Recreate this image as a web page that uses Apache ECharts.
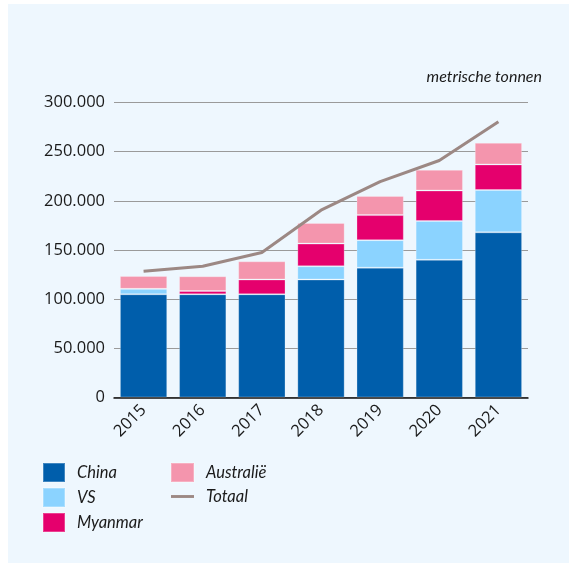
<!DOCTYPE html>
<html>
<head>
<meta charset="utf-8">
<script src="https://cdn.jsdelivr.net/npm/echarts@6/dist/echarts.min.js"></script>
<style>
  html, body { margin: 0; padding: 0; background: #ffffff; }
  #chart { width: 569px; height: 563px; }
</style>
</head>
<body>
<div id="chart"></div>
<script>
// Productie per land, in metrische tonnen
const years = ['2015', '2016', '2017', '2018', '2019', '2020', '2021'];
const china = [105000, 105000, 105000, 120000, 132000, 140000, 168000];
const vs = [5500, 0, 0, 13500, 28000, 39500, 43000];
const myanmar = [0, 3300, 15000, 23000, 25500, 31000, 26000];
const australie = [13000, 15000, 18500, 21000, 19500, 21000, 22000];
const totaal = [128500, 133500, 147500, 190500, 219500, 241000, 280500];
const yTicks = [0, 50000, 100000, 150000, 200000, 250000, 300000];

const FONT = '"Open Sans", "Noto Sans", sans-serif';
const ITALIC_FONT = 'Lato, "Open Sans", sans-serif';

const fmt = v => v === 0 ? '0' : String(v).replace(/\B(?=(\d{3})+(?!\d))/g, '.');

const barBorder = { borderColor: 'rgba(255,255,255,0.25)', borderWidth: 1 };

function barSeries(name, data, color) {
  return {
    name, type: 'bar', stack: 'land', data, barWidth: '80%',
    itemStyle: Object.assign({ color }, barBorder),
    emphasis: { disabled: true }
  };
}

const legendText = { fontFamily: ITALIC_FONT, fontStyle: 'italic', fontSize: 16.5, lineHeight: 19, color: '#1a1a1a', padding: [0, 0, 0, 7] };

const chart = echarts.init(document.getElementById('chart'), null, { renderer: 'canvas' });
chart.setOption({
  animation: false,
  backgroundColor: 'transparent',
  graphic: [
    { type: 'rect', z: -10, shape: { x: 8, y: 4, width: 561, height: 559 }, style: { fill: '#EEF7FE' } },
    { type: 'text', right: 27, top: 69, style: { text: 'metrische tonnen', font: 'italic 16px ' + ITALIC_FONT, fill: '#1a1a1a' } }
  ],
  grid: { left: 114, right: 41, top: 102.5, bottom: 165.5 },
  legend: [
    {
      orient: 'vertical', left: 42, top: 462, padding: 0, itemWidth: 22, itemHeight: 19, itemGap: 4,
      icon: 'rect',
      data: ['China', 'VS', 'Myanmar'],
      textStyle: legendText,
      selectedMode: false
    },
    {
      orient: 'vertical', left: 170, top: 462, padding: 0, itemWidth: 23, itemHeight: 19, itemGap: 4,
      data: [
        { name: 'Australië', icon: 'rect' },
        { name: 'Totaal', icon: 'path://M0,0 L24,0 L24,3 L0,3 Z' }
      ],
      textStyle: legendText,
      selectedMode: false
    }
  ],
  xAxis: {
    type: 'category', data: years,
    axisLine: { lineStyle: { color: '#111', width: 1.5 } },
    axisTick: { alignWithLabel: true, length: 6, lineStyle: { color: '#555', width: 1.5 } },
    axisLabel: { rotate: 45, margin: 10, fontFamily: FONT, fontSize: 16.5, color: '#1a1a1a' }
  },
  yAxis: {
    type: 'value', min: 0, max: 300000, interval: 50000,
    axisLine: { show: false }, axisTick: { show: false },
    splitLine: { lineStyle: { color: '#9a9a9a', width: 1.2 } },
    axisLabel: { margin: 9, fontFamily: FONT, fontSize: 16.5, color: '#1a1a1a',
      formatter: v => yTicks.includes(v) ? fmt(v) : '' }
  },
  series: [
    barSeries('China', china, '#005EAB'),
    barSeries('VS', vs, '#8BD3FF'),
    barSeries('Myanmar', myanmar, '#E5006D'),
    barSeries('Australië', australie, '#F495AD'),
    {
      name: 'Totaal', type: 'line', data: totaal, symbol: 'none', z: 5,
      lineStyle: { color: '#9C8884', width: 3 },
      itemStyle: { color: '#9C8884' },
      emphasis: { disabled: true }
    }
  ]
});
</script>
</body>
</html>
